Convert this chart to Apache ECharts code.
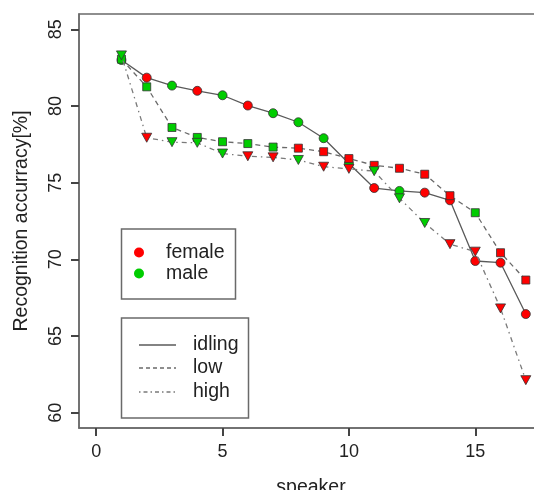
<!DOCTYPE html>
<html>
<head>
<meta charset="utf-8">
<script src="https://cdn.jsdelivr.net/npm/echarts@6/dist/echarts.min.js"></script>
<style>html,body{margin:0;padding:0;background:#fff}#c{width:534px;height:490px}</style>
</head>
<body>
<div id="c"></div>
<script>
// ---- data ----
const speakers = [1,2,3,4,5,6,7,8,9,10,11,12,13,14,15,16,17];
const idlingValues = [83.0, 81.85, 81.33, 80.99, 80.7, 80.03, 79.53, 78.94, 77.9, 76.25, 74.65, 74.46, 74.35, 73.85, 69.89, 69.78, 66.43];
const idlingGender = ['m','f','m','f','m','f','m','m','m','m','f','m','f','f','f','f','f'];
const lowValues = [83.05, 81.25, 78.6, 77.95, 77.67, 77.55, 77.32, 77.25, 77.02, 76.57, 76.13, 75.94, 75.55, 74.15, 73.04, 70.43, 68.65];
const lowGender = ['m','m','m','m','m','m','m','f','f','f','f','f','f','f','m','f','f'];
const highValues = [83.3, 77.93, 77.64, 77.6, 76.9, 76.72, 76.65, 76.48, 76.04, 75.9, 75.75, 73.98, 72.37, 70.99, 70.5, 66.8, 62.12];
const highGender = ['m','f','m','m','m','f','f','m','f','f','m','m','m','f','f','f','f'];
const xTicks = [0,5,10,15];
const yTicks = [60,65,70,75,80,85];
const genderNames = ['female','male'];
const conditionNames = ['idling','low','high'];

const RED = '#ff0000', GREEN = '#00cd00';
const FONT = '"Liberation Sans", Arial, sans-serif';
const colorOf = g => g === 'f' ? RED : GREEN;
function build(vals, gend) {
  return speakers.map((s, i) => ({ value: [s, vals[i]], itemStyle: { color: colorOf(gend[i]) } }));
}

const chart = echarts.init(document.getElementById('c'));
const lineCol = '#5a5a5a';
const frameCol = '#6a6a6a';
chart.setOption({
  animation: false,
  backgroundColor: '#fff',
  grid: { left: 79, top: 14, width: 464, height: 414, show: true, borderColor: frameCol, borderWidth: 1.5, outerBoundsMode: 'none' },
  xAxis: {
    type: 'value', min: -0.68, max: 17.68,
    name: 'speaker', nameLocation: 'middle', nameGap: 50,
    nameTextStyle: { fontFamily: FONT, fontSize: 19.5, color: '#222' },
    axisLine: { show: true, onZero: false, lineStyle: { color: frameCol, width: 1.5 } },
    axisTick: { show: true, length: 8, customValues: xTicks, lineStyle: { color: '#444', width: 2 } },
    axisLabel: { customValues: xTicks, fontFamily: FONT, fontSize: 18, color: '#222', margin: 15 },
    splitLine: { show: false }
  },
  yAxis: {
    type: 'value', min: 59, max: 86,
    name: 'Recognition accurracy[%]', nameLocation: 'middle', nameGap: 47, nameRotate: 90,
    nameTextStyle: { fontFamily: FONT, fontSize: 19.5, color: '#222' },
    axisLine: { show: true, onZero: false, lineStyle: { color: frameCol, width: 1.5 } },
    axisTick: { show: true, length: 8, customValues: yTicks, lineStyle: { color: '#444', width: 2 } },
    axisLabel: { customValues: yTicks, rotate: 90, fontFamily: FONT, fontSize: 18, color: '#222', margin: 14 },
    splitLine: { show: false }
  },
  series: [
    { name: 'idling', type: 'line', data: build(idlingValues, idlingGender), symbol: 'circle', symbolSize: 9,
      lineStyle: { color: lineCol, width: 1.3, type: 'solid' },
      itemStyle: { borderColor: '#333', borderWidth: 0.8 }, z: 3 },
    { name: 'low', type: 'line', data: build(lowValues, lowGender), symbol: 'rect', symbolSize: 8,
      lineStyle: { color: '#6a6a6a', width: 1.3, type: [5, 4] },
      itemStyle: { borderColor: '#333', borderWidth: 0.8 }, z: 4 },
    { name: 'high', type: 'line', data: build(highValues, highGender), symbol: 'triangle', symbolRotate: 180, symbolSize: [10, 9],
      lineStyle: { color: '#7a7a7a', width: 1.3, type: [1.5, 4, 5, 4] },
      itemStyle: { borderColor: '#333', borderWidth: 0.8 }, z: 5 }
  ],
  graphic: [
    { type: 'rect', shape: { x: 121.5, y: 229, width: 114, height: 70 }, style: { fill: '#fff', stroke: frameCol, lineWidth: 1.5 }, z: 10 },
    { type: 'circle', shape: { cx: 139, cy: 252.5, r: 5 }, style: { fill: RED }, z: 11 },
    { type: 'circle', shape: { cx: 139, cy: 273.5, r: 5 }, style: { fill: GREEN }, z: 11 },
    { type: 'text', x: 166, y: 252.5, style: { text: genderNames[0], font: '19.5px ' + FONT, fill: '#222', verticalAlign: 'middle' }, z: 11 },
    { type: 'text', x: 166, y: 273.5, style: { text: genderNames[1], font: '19.5px ' + FONT, fill: '#222', verticalAlign: 'middle' }, z: 11 },
    { type: 'rect', shape: { x: 121.5, y: 318, width: 127, height: 100 }, style: { fill: '#fff', stroke: frameCol, lineWidth: 1.5 }, z: 10 },
    { type: 'line', shape: { x1: 139, y1: 345, x2: 176, y2: 345 }, style: { stroke: lineCol, lineWidth: 1.3 }, z: 11 },
    { type: 'line', shape: { x1: 139, y1: 368, x2: 176, y2: 368 }, style: { stroke: '#6a6a6a', lineWidth: 1.3, lineDash: [4, 3] }, z: 11 },
    { type: 'line', shape: { x1: 139, y1: 392, x2: 176, y2: 392 }, style: { stroke: '#7a7a7a', lineWidth: 1.3, lineDash: [1.5, 3, 4, 3] }, z: 11 },
    { type: 'text', x: 193, y: 345, style: { text: conditionNames[0], font: '19.5px ' + FONT, fill: '#222', verticalAlign: 'middle' }, z: 11 },
    { type: 'text', x: 193, y: 368, style: { text: conditionNames[1], font: '19.5px ' + FONT, fill: '#222', verticalAlign: 'middle' }, z: 11 },
    { type: 'text', x: 193, y: 392, style: { text: conditionNames[2], font: '19.5px ' + FONT, fill: '#222', verticalAlign: 'middle' }, z: 11 }
  ]
});
</script>
</body>
</html>
